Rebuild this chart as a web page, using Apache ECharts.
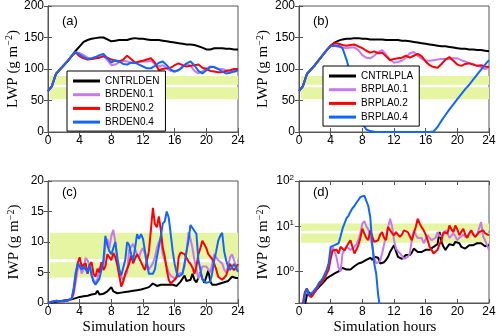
<!DOCTYPE html>
<html>
<head>
<meta charset="utf-8">
<title>LWP / IWP</title>
<script src="https://cdn.jsdelivr.net/npm/echarts@6/dist/echarts.min.js"></script>
<style>
  html, body { margin: 0; padding: 0; background: #fff; }
  #chart { width: 500px; height: 336px; }
</style>
</head>
<body>
<div id="chart"></div>
<script>
// sampling times (hours)
var hoursCoarse = [];
for (var i = 0; i <= 48; i++) hoursCoarse.push(i / 2);
var hoursFine = [];
for (var j = 0; j <= 96; j++) hoursFine.push(j / 4);

var namesDen = ['CNTRLDEN', 'BRDEN0.1', 'BRDEN0.2', 'BRDEN0.4'];
var namesPla = ['CNTRLPLA', 'BRPLA0.1', 'BRPLA0.2', 'BRPLA0.4'];
var lineColors = ['#000000', '#c878f0', '#ff0000', '#1166ff'];
var panelTags = ['(a)', '(b)', '(c)', '(d)'];

// (a) LWP, DEN runs, every 0.5 h
var lwpDen0 = [65,73,92,99,106,113,121,129,136,143, 146,148,149,150,150,147,144,145,146,146,
  146,148,149,148,148,147,146,146,146,145, 144,143,142,141,140,139,139,138,136,134,
  131,131,133,133,133,132,132,131,131];
var lwpDen1 = [65,73,92,99,106,113,121,127,125,122, 118,116,117,120,121,114,106,107,111,113,
  112,110,109,111,112,112,113,108,104,106, 101,97,96,99,104,108,105,97,93,96,
  101,104,103,100,100,98,97,96,97];
var lwpDen2 = [65,73,92,99,106,113,121,126,120,117, 115,116,117,118,120,118,115,113,112,115,
  121,116,110,112,113,115,117,110,98,100, 101,102,106,109,106,104,105,106,107,102,
  100,97,96,95,95,97,98,100,100];
var lwpDen4 = [65,73,92,99,106,113,121,127,123,119, 116,117,119,122,124,117,110,114,112,108,
  107,110,110,107,104,101,101,105,110,112, 106,99,96,98,103,109,112,106,97,93,
  98,103,103,100,96,93,94,96,98];

// (b) LWP, PLA runs, every 0.5 h
var lwpPla0 = [65,73,92,99,106,114,122,130,137,142, 145,147,148,148,149,149,148,148,147,147,
  147,147,146,146,146,146,145,145,144,143, 142,141,140,139,138,137,136,136,135,134,
  133,132,132,131,131,130,130,129,128];
var lwpPla1 = [65,73,92,99,106,114,122,130,137,137, 135,134,133,134,134,130,122,118,117,121,
  127,130,123,115,110,111,113,118,125,127, 121,116,113,113,114,115,116,116,116,117,
  117,114,112,109,108,105,103,100,102];
var lwpPla2 = [65,73,92,99,106,114,122,130,137,141, 140,138,137,138,139,136,133,129,126,128,
  125,126,120,114,116,117,118,121,118,121, 124,120,112,106,103,102,108,115,119,113,
  107,105,108,109,107,105,106,104,103];
var lwpPla4 = [65,73,92,99,106,114,122,130,136,137, 137,133,115,92,66,40,14,4,1.5,0.5,
  0,0,0,0,0,0,0,0,0,0, 0,0,0,0,1,8,18,27,36,44,
  52,60,68,75,83,91,99,107,114];

// (c) IWP, DEN runs, every 0.25 h (one row per hour)
var iwpDen0 = [0,0.05,0.1,0.15, 0.2,0.25,0.3,0.35, 0.4,0.45,0.5,0.55, 0.6,0.7,0.8,0.9,
  1.0,1.0,1.1,1.2, 1.2,1.3,1.4,1.3, 1.5,2.0,1.4,1.5, 1.5,1.7,1.9,2.1,
  2.6,1.9,1.6,1.6, 1.6,1.7,1.7,1.8, 1.8,1.9,1.9,2.0, 2.0,2.1,2.1,2.2,
  2.2,2.4,2.5,2.6, 2.6,3.2,3.0,2.8, 2.8,3.0,3.2,3.0, 3.2,3.0,2.8,3.0,
  3.0,2.8,2.9,3.5, 3.4,4.5,3.6,3.5, 3.8,4.8,3.8,3.4, 3.6,5.0,4.0,3.3,
  3.2,5.3,3.5,3.0, 3.0,3.0,3.1,3.2, 3.3,3.4,3.5,3.6, 3.8,4.3,4.0,4.1, 4.1];
var iwpDen1 = [0,0.1,0.2,0.3, 0.35,0.35,0.3,0.3, 0.3,0.35,0.4,0.5, 0.7,1.5,3.5,5.5,
  6.5,4.8,5.5,7.4, 7.0,7.3,5.0,3.8, 3.2,4.0,5.9,5.5, 6.0,9.6,10.5,9.0,
  11.0,12.0,10.0,7.0, 5.5,4.3,3.8,4.5, 5.0,8.7,9.2,9.7, 10.0,8.0,7.5,8.5,
  9.0,8.0,6.5,5.5, 5.5,6.5,7.5,9.0, 10.0,10.5,8.0,7.0, 6.0,5.0,4.5,4.2,
  4.0,4.2,4.8,5.0, 5.0,6.0,8.5,11.6, 10.5,9.0,7.0,5.5, 4.0,5.0,6.0,6.2,
  6.0,5.5,5.0,6.5, 8.0,7.5,7.0,7.2, 6.5,5.5,5.0,6.0, 7.5,8.0,7.0,6.0, 5.5];
var iwpDen2 = [0,0.1,0.2,0.3, 0.35,0.35,0.3,0.3, 0.3,0.35,0.4,0.5, 0.7,2.0,4.5,6.5,
  7.5,6.0,6.3,6.5, 4.8,6.2,6.7,4.8, 4.3,5.6,5.0,6.7, 5.4,6.0,8.0,7.8,
  7.0,8.2,7.5,6.2, 4.5,2.7,3.5,4.8, 4.5,6.4,7.8,6.5, 6.5,8.0,7.4,6.7,
  6.0,5.4,5.5,8.5, 12.0,15.6,13.0,12.4, 14.2,12.0,9.0,7.6, 5.5,3.8,3.2,3.5,
  3.8,4.2,7.5,8.3, 8.3,8.0,7.8,6.8, 6.4,5.8,4.8,6.0, 8.0,9.0,10.2,10.5,
  9.0,8.0,8.0,7.2, 6.4,5.5,4.3,4.0, 3.8,3.8,4.5,5.5, 6.4,5.8,5.4,5.8, 6.4];
var iwpDen4 = [0,0.1,0.2,0.3, 0.35,0.35,0.3,0.3, 0.3,0.35,0.4,0.5, 0.8,2.5,5.0,6.5,
  6.5,5.5,6.0,6.3, 5.0,6.3,4.5,3.5, 3.0,3.5,4.0,5.5, 7.0,11.0,9.5,8.5,
  8.0,9.0,10.0,7.5, 5.5,4.5,4.5,7.0, 10.0,9.5,8.0,7.0, 9.0,11.3,10.5,11.3,
  10.5,8.5,6.4,4.8, 4.8,4.8,5.5,7.5, 9.2,11.0,13.0,13.4, 15.0,14.0,11.3,8.5,
  6.4,5.0,4.3,4.3, 4.8,6.5,8.5,10.2, 12.8,13.0,11.8,11.3, 7.0,5.5,3.8,3.5,
  3.3,3.2,3.5,5.0, 7.0,8.5,10.2,11.0, 11.5,8.5,7.0,6.0, 5.4,5.5,6.4,5.8, 5.1];

// (d) IWP, PLA runs, every 0.25 h (log axis, values under 0.2 fall below the frame)
var iwpPla0 = [0.05,0.08,0.12,0.18, 0.3,0.35,0.3,0.28, 0.35,0.4,0.45,0.5, 0.55,0.62,0.7,0.72,
  0.8,0.85,0.9,0.95, 1.0,1.1,1.2,1.3, 1.1,1.05,1.1,1.2, 1.3,1.4,1.5,1.5,
  1.6,1.7,1.8,1.9, 2.0,1.8,2.1,2.3, 2.0,1.5,1.5,1.6, 1.8,2.1,2.7,3.2,
  3.8,2.8,2.1,2.0, 1.9,2.0,2.3,2.4, 2.3,2.6,3.2,3.0, 2.7,2.6,2.7,2.9,
  3.0,2.8,3.0,3.2, 3.5,3.8,4.0,7.5, 4.5,3.5,3.0,3.5, 4.0,4.2,3.8,4.5,
  4.9,4.2,3.5,3.2, 3.2,3.5,3.8,3.6, 3.8,4.0,4.2,4.0, 4.2,3.8,3.6,3.7, 3.8];
var iwpPla1 = [0.05,0.1,0.2,0.35, 0.42,0.3,0.27,0.3, 0.36,0.42,0.5,0.55, 0.62,0.75,0.95,1.5,
  2.1,3.5,2.8,2.0, 1.2,1.0,2.5,3.0, 3.5,3.2,3.0,3.3, 3.5,4.0,5.0,7.0,
  11.4,13.0,10.0,8.5, 6.0,3.5,2.0,1.5, 1.5,1.7,2.5,4.0, 6.0,9.5,14.6,10.0,
  4.9,3.2,2.8,2.5, 2.2,1.9,1.9,2.1, 2.5,4.9,8.1,6.5, 5.5,5.8,5.5,4.2,
  4.2,6.3,5.5,4.9, 5.0,5.5,7.4,6.0, 5.5,6.5,8.1,7.0, 5.5,6.0,6.9,6.0,
  4.9,5.5,5.8,6.5, 5.8,5.8,6.5,8.1, 7.0,5.8,6.5,9.0, 12.3,6.0,4.9,3.8, 3.0];
var iwpPla2 = [0.05,0.1,0.2,0.35, 0.42,0.3,0.27,0.3, 0.36,0.42,0.5,0.55, 0.62,0.72,0.9,1.1,
  1.9,2.9,3.2,3.0, 2.5,3.5,3.8,2.9, 3.5,4.2,4.9,5.3, 2.5,3.0,3.8,5.5,
  8.8,6.9,5.5,4.9, 8.1,6.0,4.5,4.7, 4.9,6.5,7.4,5.5, 4.9,9.6,10.4,7.0,
  6.3,7.4,6.5,5.8, 6.5,8.1,7.5,7.4, 6.0,4.9,7.0,9.6, 14.6,11.4,9.5,8.1,
  6.5,4.9,3.5,3.0, 2.5,2.3,3.0,4.0, 4.9,7.4,7.0,6.9, 10.4,8.5,7.4,10.4,
  8.5,6.3,7.5,8.8, 6.5,5.5,7.0,8.1, 6.5,5.8,6.5,7.4, 7.4,8.1,7.0,6.8, 6.3];
var iwpPla4 = [0.05,0.08,0.15,0.3, 0.42,0.3,0.28,0.35, 0.4,0.45,0.55,0.62, 0.7,0.76,1.1,1.5,
  3.5,3.8,3.8,4.0, 4.2,6.0,8.8,11.5, 15,17,21,25, 28,33,38,44,
  47.5,47.5,44,28, 16,4.1,1.5,0.9, 0.3,0.15,0.08,0.05];

// observed ranges (shaded bands)
var lwpBands = [[52, 71], [75, 89]];
var iwpBandsC = [[4.2, 6.7], [7.2, 11.5]];
var iwpBandsD = [[4.3, 6.9], [7.9, 11.5]];
var bandStart = 0.25, bandEnd = 24;

var sans = "'Liberation Sans', Arial, sans-serif";
var serif = "'Liberation Serif', 'Times New Roman', serif";
var frame = '#555';

function pairs(hours, vals) {
    var out = [];
    for (var k = 0; k < vals.length; k++) out.push([hours[k], vals[k]]);
    return out;
}

function bandArea(bands) {
    return {
        silent: true,
        itemStyle: { color: '#e5f5a2' },
        data: bands.map(function (b) {
            return [{ xAxis: bandStart, yAxis: b[0] }, { xAxis: bandEnd, yAxis: b[1] }];
        })
    };
}

var grids = [
    { left: 48, top: 6, width: 190, height: 126 },
    { left: 299, top: 6, width: 190, height: 126 },
    { left: 48, top: 181, width: 190, height: 124 },
    { left: 299, top: 181, width: 190, height: 124 }
];
grids.forEach(function (g) {
    g.show = true;
    g.borderColor = frame;
    g.borderWidth = 1;
});

var xAxes = [], yAxes = [];
var yNames = ['LWP', 'LWP', 'IWP', 'IWP'];
var yGaps = [26, 28, 26, 28];
for (var p = 0; p < 4; p++) {
    var bottomX = {
        gridIndex: p, type: 'value', min: 0, max: 24, interval: 4,
        axisLine: { lineStyle: { color: frame } },
        axisTick: { inside: true, length: 4, lineStyle: { color: frame } },
        axisLabel: { color: '#000', fontSize: 12, fontFamily: sans, margin: 3 },
        splitLine: { show: false }
    };
    if (p >= 2) {
        bottomX.name = 'Simulation hours';
        bottomX.nameLocation = 'middle';
        bottomX.nameGap = 17;
        bottomX.nameTextStyle = { color: '#000', fontSize: 15, fontFamily: serif, padding: [0, 18, 0, 0] };
    }
    xAxes.push(bottomX);
    xAxes.push({
        gridIndex: p, type: 'value', position: 'top', min: 0, max: 24, interval: 4,
        axisLine: { lineStyle: { color: frame } },
        axisTick: { inside: true, length: 4, lineStyle: { color: frame } },
        axisLabel: { show: false },
        splitLine: { show: false }
    });

    var leftY = {
        gridIndex: p, type: 'value',
        name: yNames[p] + ' (g m{sup|\u22122})',
        nameLocation: 'middle', nameRotate: 90, nameGap: yGaps[p],
        nameTextStyle: {
            color: '#000', fontSize: 15, fontFamily: serif,
            rich: { sup: { fontSize: 10, fontFamily: serif, color: '#000', verticalAlign: 'top', padding: [0, 0, 6, 0] } }
        },
        axisLine: { show: true, lineStyle: { color: frame } },
        axisTick: { show: true, inside: true, length: 4, lineStyle: { color: frame } },
        axisLabel: { color: '#000', fontSize: 12, fontFamily: sans, margin: 4 },
        splitLine: { show: false }
    };
    var rightY = {
        gridIndex: p, type: 'value', position: 'right',
        axisLine: { show: true, lineStyle: { color: frame } },
        axisTick: { show: true, inside: true, length: 4, lineStyle: { color: frame } },
        axisLabel: { show: false },
        splitLine: { show: false }
    };
    if (p < 2) {
        leftY.min = rightY.min = 0; leftY.max = rightY.max = 200; leftY.interval = rightY.interval = 50;
    } else if (p === 2) {
        leftY.min = rightY.min = 0; leftY.max = rightY.max = 20; leftY.interval = rightY.interval = 5;
    } else {
        leftY.type = rightY.type = 'log';
        leftY.logBase = rightY.logBase = 10;
        leftY.min = rightY.min = 0.2; leftY.max = rightY.max = 100;
        leftY.axisLabel = {
            showMinLabel: false, margin: 5,
            formatter: function (v) {
                var e = Math.round(Math.log(v) / Math.LN10);
                return '{b|10}{s|' + e + '}';
            },
            rich: {
                b: { color: '#000', fontSize: 12, fontFamily: sans },
                s: { color: '#000', fontSize: 8, fontFamily: sans, verticalAlign: 'top', padding: [0, 0, 6, 0] }
            }
        };
    }
    yAxes.push(leftY);
    yAxes.push(rightY);
}

var panelData = [
    { hours: hoursCoarse, names: namesDen, vals: [lwpDen0, lwpDen1, lwpDen2, lwpDen4], bands: lwpBands },
    { hours: hoursCoarse, names: namesPla, vals: [lwpPla0, lwpPla1, lwpPla2, lwpPla4], bands: lwpBands },
    { hours: hoursFine, names: namesDen, vals: [iwpDen0, iwpDen1, iwpDen2, iwpDen4], bands: iwpBandsC },
    { hours: hoursFine, names: namesPla, vals: [iwpPla0, iwpPla1, iwpPla2, iwpPla4], bands: iwpBandsD }
];

var series = [];
panelData.forEach(function (pd, p) {
    pd.vals.forEach(function (v, s) {
        var ser = {
            type: 'line', name: pd.names[s],
            xAxisIndex: 2 * p, yAxisIndex: 2 * p,
            data: pairs(pd.hours, v),
            showSymbol: false, symbol: 'none',
            lineStyle: { color: lineColors[s], width: 2 },
            itemStyle: { color: lineColors[s] },
            z: 2 + s
        };
        if (s === 0) ser.markArea = bandArea(pd.bands);
        series.push(ser);
    });
});

function legendAt(left, top, names) {
    return {
        left: left, top: top, orient: 'vertical', data: names,
        icon: 'rect', itemWidth: 27, itemHeight: 3, itemGap: 1.7,
        padding: [4, 6, 3, 6],
        borderColor: '#000', borderWidth: 1, borderRadius: 0, backgroundColor: '#fff',
        textStyle: { color: '#000', fontSize: 10, fontFamily: sans, lineHeight: 12 },
        selectedMode: false, z: 10
    };
}

var tagPos = [[62, 15], [313, 15], [62, 186], [313, 186]];

var option = {
    animation: false,
    backgroundColor: '#fff',
    grid: grids,
    xAxis: xAxes,
    yAxis: yAxes,
    legend: [legendAt(67, 71, namesDen), legendAt(323, 66, namesPla)],
    graphic: panelTags.map(function (t, k) {
        return {
            type: 'text', left: tagPos[k][0], top: tagPos[k][1], z: 20,
            style: { text: t, fill: '#000', font: '13px ' + sans }
        };
    }),
    series: series
};

var myChart = echarts.init(document.getElementById('chart'));
myChart.setOption(option);
</script>
</body>
</html>
